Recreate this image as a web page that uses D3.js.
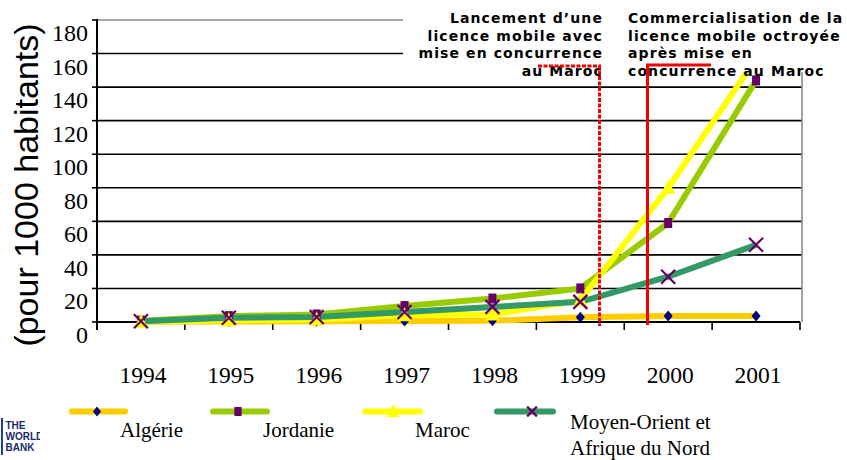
<!DOCTYPE html>
<html>
<head>
<meta charset="utf-8">
<script src="https://cdn.jsdelivr.net/npm/d3@7"></script>
<style>
html,body{margin:0;padding:0;background:#fff;}
svg{display:block;}
</style>
</head>
<body>
<svg id="chart" width="847" height="460"></svg>
<script>
// ---------- DATA ----------
const years = ["1994","1995","1996","1997","1998","1999","2000","2001"];
const algerie  = [0.2, 0.3, 0.4, 0.6, 0.7, 2.8, 3.6, 3.6];
const jordanie = [0.8, 3.5, 4.5, 9.5, 14, 20, 59, 144];
const maroc    = [0.2, 1.0, 1.5, 4.0, 4.5, 13, 80, 157];
const mena     = [0.5, 2.5, 3.0, 6.0, 9.0, 12, 27, 46];
const yTicks = [0, 20, 40, 60, 80, 100, 120, 140, 160, 180];
const seriesNames = ["Algérie", "Jordanie", "Maroc", "Moyen-Orient et|Afrique du Nord"];
const yTitle = "(pour 1000 habitants)";
const noteLeft = ["Lancement d’une", "licence mobile avec", "mise en concurrence", "au Maroc"];
const noteRight = ["Commercialisation de la", "licence mobile octroyée", "après mise en", "concurrence au Maroc"];
const logoLines = ["THE", "WORLD", "BANK"];

// ---------- SETUP ----------
const svg = d3.select("#chart");
const x = d3.scaleBand().domain(years).range([97, 800]);
const y = d3.scaleLinear().domain([0, 180]).range([322, 20]);
const cx = d => x(d) + x.bandwidth() / 2;
const serif = "'Liberation Serif','Times New Roman',serif";
const sans = "'Liberation Sans',Arial,sans-serif";

const series = [
  {name: seriesNames[0], values: algerie,  color: "#ffcc00", marker: "diamond"},
  {name: seriesNames[1], values: jordanie, color: "#99cc00", marker: "square"},
  {name: seriesNames[2], values: maroc,    color: "#ffff00", marker: "triangle"},
  {name: seriesNames[3], values: mena,     color: "#339966", marker: "x"}
];

// ---------- GRID ----------
const xLeft = x.range()[0], xRight = 802;
svg.append("g").selectAll("line").data(yTicks.filter(v => v > 0)).join("line")
  .attr("x1", xLeft).attr("x2", xRight)
  .attr("y1", d => y(d)).attr("y2", d => y(d))
  .attr("stroke", d => d === 180 ? "#8c8c8c" : "#000")
  .attr("stroke-width", 1.6);
// right border
svg.append("line").attr("x1", xRight).attr("x2", xRight)
  .attr("y1", y(180)).attr("y2", y(0))
  .attr("stroke", "#8c8c8c").attr("stroke-width", 1.6);

// y axis
svg.append("line").attr("x1", xLeft).attr("x2", xLeft)
  .attr("y1", y(180) - 1).attr("y2", y(0) + 8)
  .attr("stroke", "#000").attr("stroke-width", 2);
svg.append("g").selectAll("line").data(yTicks).join("line")
  .attr("x1", xLeft - 5).attr("x2", xLeft)
  .attr("y1", d => y(d)).attr("y2", d => y(d))
  .attr("stroke", "#000").attr("stroke-width", 1.6);
svg.append("g").selectAll("text").data(yTicks).join("text")
  .attr("x", 88).attr("y", d => y(d) + 21)
  .attr("text-anchor", "end")
  .attr("font-family", serif).attr("font-size", 24)
  .attr("fill", "#000")
  .text(d => d);

// x axis
svg.append("line").attr("x1", xLeft).attr("x2", x.range()[1])
  .attr("y1", y(0)).attr("y2", y(0))
  .attr("stroke", "#000").attr("stroke-width", 2);
const edges = years.slice(1).map(d => x(d)).concat([x.range()[1]]);
svg.append("g").selectAll("line").data(edges).join("line")
  .attr("x1", d => d).attr("x2", d => d)
  .attr("y1", y(0)).attr("y2", y(0) + 8)
  .attr("stroke", "#000").attr("stroke-width", 1.6);
svg.append("g").selectAll("text").data(years).join("text")
  .attr("x", d => cx(d) + 2).attr("y", 383)
  .attr("text-anchor", "middle")
  .attr("font-family", serif).attr("font-size", 23.5)
  .attr("fill", "#000")
  .text(d => d);

// y title
svg.append("text")
  .attr("transform", "translate(38," + 185 + ") rotate(-90)")
  .attr("text-anchor", "middle")
  .attr("font-family", sans).attr("font-size", 34)
  .attr("fill", "#000")
  .text(yTitle);

// ---------- MARKERS ----------
function drawMarker(g, type, px, py, k) {
  k = k || 1;
  if (type === "diamond") {
    g.append("path").attr("d", `M${px},${py-5.5*k}L${px+4.5*k},${py}L${px},${py+5.5*k}L${px-4.5*k},${py}Z`)
      .attr("fill", "#000080");
  } else if (type === "square") {
    g.append("rect").attr("x", px - 4*k).attr("y", py - 5*k).attr("width", 8*k).attr("height", 10*k)
      .attr("fill", "#660066");
  } else if (type === "triangle") {
    g.append("path").attr("d", `M${px},${py-8*k}L${px+7*k},${py+6*k}L${px-7*k},${py+6*k}Z`)
      .attr("fill", "#ffff00");
  } else if (type === "x") {
    g.append("path").attr("d", `M${px-7*k},${py-7*k}L${px+7*k},${py+7*k}M${px+7*k},${py-7*k}L${px-7*k},${py+7*k}`)
      .attr("stroke", "#660066").attr("stroke-width", 2.2).attr("fill", "none");
  }
}

// ---------- LINES ----------
const line = d3.line().x((d, i) => cx(years[i])).y(d => y(d));
const plotG = svg.append("g");
series.forEach(s => {
  plotG.append("path").attr("d", line(s.values))
    .attr("fill", "none").attr("stroke", s.color)
    .attr("stroke-width", 6).attr("stroke-linejoin", "round");
});
series.forEach(s => {
  const g = plotG.append("g");
  s.values.forEach((v, i) => drawMarker(g, s.marker, cx(years[i]), y(v)));
});

// ---------- ANNOTATION BOX ----------
svg.append("rect").attr("x", 403).attr("y", 0).attr("width", 444).attr("height", 72).attr("fill", "#fff");

const annotFont = "'DejaVu Sans',Verdana,sans-serif";
const lineY = i => 23 + i * 17.5;
svg.append("g").selectAll("text").data(noteLeft).join("text")
  .attr("x", 603).attr("y", (d, i) => lineY(i))
  .attr("text-anchor", "end")
  .attr("font-family", annotFont).attr("font-weight", "bold").attr("font-size", 14)
  .attr("letter-spacing", 1.1)
  .attr("fill", "#000").text(d => d);
svg.append("g").selectAll("text").data(noteRight).join("text")
  .attr("x", 628).attr("y", (d, i) => lineY(i))
  .attr("text-anchor", "start")
  .attr("font-family", annotFont).attr("font-weight", "bold").attr("font-size", 14)
  .attr("letter-spacing", 1.1)
  .attr("fill", "#000").text(d => d);

// red brackets
const red = "#f00000";
svg.append("path")
  .attr("d", `M538,66H599.5V326`)
  .attr("fill", "none").attr("stroke", red).attr("stroke-width", 3)
  .attr("stroke-dasharray", "4,1.5");
svg.append("path")
  .attr("d", `M711,65H647.5V325`)
  .attr("fill", "none").attr("stroke", red).attr("stroke-width", 3);

// ---------- LEGEND ----------
const legend = [
  {s: series[0], x1: 72, x2: 125, mx: 97, tx: 120},
  {s: series[1], x1: 213, x2: 267, mx: 238, tx: 263},
  {s: series[2], x1: 365, x2: 420, mx: 393, tx: 415},
  {s: series[3], x1: 497, x2: 553, mx: 532, tx: 570}
];
const lg = svg.append("g");
legend.forEach(l => {
  lg.append("line").attr("x1", l.x1).attr("x2", l.x2).attr("y1", 411.5).attr("y2", 411.5)
    .attr("stroke", l.s.color).attr("stroke-width", 6).attr("stroke-linecap", "round");
  drawMarker(lg, l.s.marker, l.mx, 411.5, l.s.marker === "x" ? 0.7 : 0.9);
  const parts = l.s.name.split("|");
  const t = lg.append("text").attr("font-family", serif).attr("font-size", 21).attr("fill", "#000");
  if (parts.length === 1) {
    t.attr("x", l.tx).attr("y", 437).text(parts[0]);
  } else {
    parts.forEach((p, i) => t.append("tspan").attr("x", l.tx).attr("y", 429 + i * 25.5).text(p));
  }
});

// ---------- LOGO ----------
svg.append("defs").append("clipPath").attr("id", "logoClip")
  .append("rect").attr("x", 0).attr("y", 410).attr("width", 40).attr("height", 50);
const logo = svg.append("g").attr("clip-path", "url(#logoClip)");
logo.append("rect").attr("x", 1).attr("y", 418).attr("width", 2).attr("height", 37).attr("fill", "#1f3f9f");
logo.selectAll("text").data(logoLines).join("text")
  .attr("x", 5.5).attr("y", (d, i) => 429 + i * 10.8)
  .attr("font-family", sans).attr("font-weight", "bold").attr("font-size", 10)
  .attr("fill", "#1a2a6e").text(d => d);
</script>
</body>
</html>
